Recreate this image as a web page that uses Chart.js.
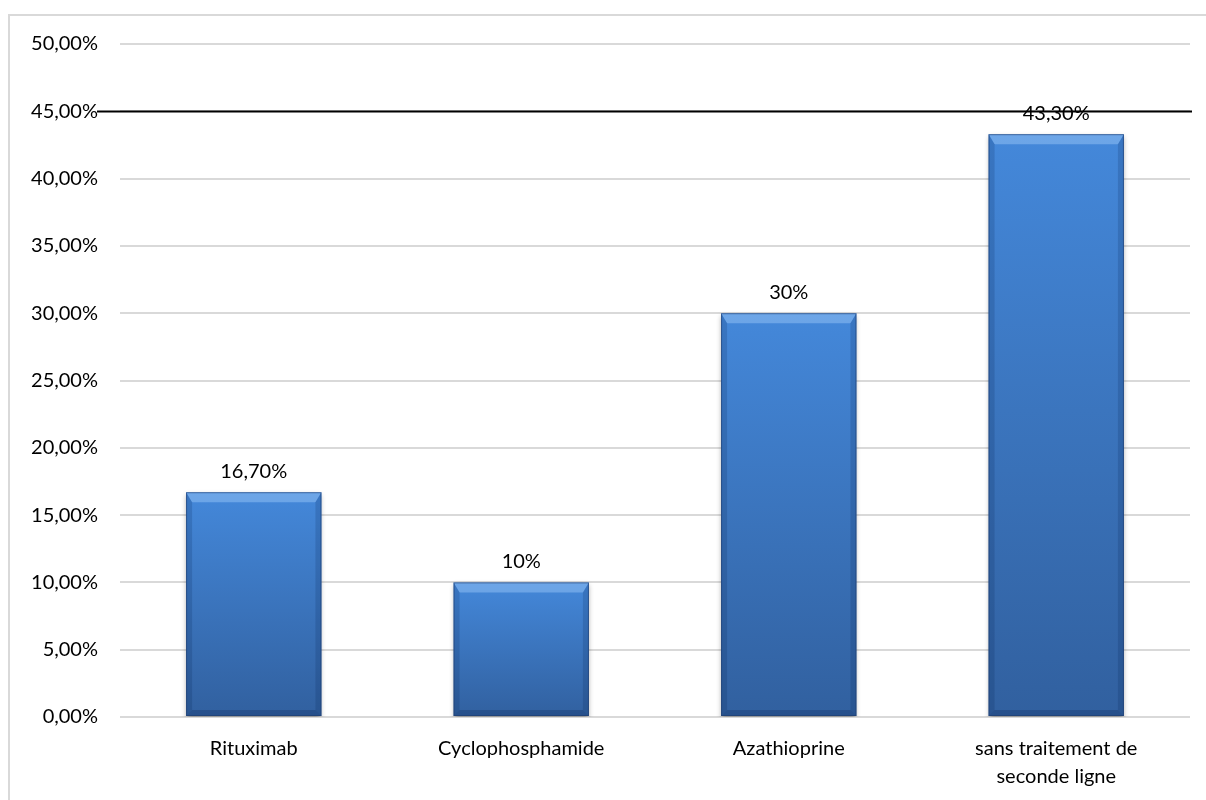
<!DOCTYPE html>
<html>
<head>
<meta charset="utf-8">
<script src="https://cdn.jsdelivr.net/npm/chart.js@4"></script>
<style>
  html, body { margin: 0; padding: 0; background: #fff; overflow: hidden; }
  #frame { position: absolute; left: 8px; top: 14px; width: 1400px; height: 1000px;
           border: 2px solid #d9d9d9; box-sizing: border-box; }
  #wrap { position: absolute; left: 0; top: 0; width: 1206px; height: 800px; }
</style>
</head>
<body>
<div id="frame"></div>
<div id="wrap"><canvas id="chart"></canvas></div>
<script>
// values
var categories = ['Rituximab', 'Cyclophosphamide', 'Azathioprine', ['sans traitement de', 'seconde ligne']];
var values = [16.7, 10, 30, 43.3];
var valueLabels = ['16,70%', '10%', '30%', '43,30%'];
var yTicks = [0, 5, 10, 15, 20, 25, 30, 35, 40, 45, 50];
var refLine = 45;

var FONT = 'Lato, "Noto Sans", sans-serif';

/** gradient from each bar's own top down to the baseline */
function barFill(context) {
  var chart = context.chart;
  var ys = chart.scales.y;
  if (!chart.chartArea || !ys || context.raw == null) return '#3f7acb';
  var top = ys.getPixelForValue(context.raw);
  var base = ys.getPixelForValue(0);
  var g = chart.ctx.createLinearGradient(0, top, 0, base);
  g.addColorStop(0, '#4488da');
  g.addColorStop(1, '#31609f');
  return g;
}

/** soft shadow under the bars, then a bevel on each bar */
var bevelPlugin = {
  id: 'bevel',
  beforeDatasetsDraw: function(chart) {
    var ctx = chart.ctx;
    ctx.save();
    ctx.shadowColor = 'rgba(0,0,0,0.35)';
    ctx.shadowBlur = 5;
    ctx.shadowOffsetY = 3;
  },
  afterDatasetsDraw: function(chart) {
    var ctx = chart.ctx;
    ctx.restore();
    var meta = chart.getDatasetMeta(0);
    var bt = 10, bs = 6;
    ctx.save();
    meta.data.forEach(function(bar) {
      var l = bar.x - bar.width / 2, r = bar.x + bar.width / 2;
      var t = bar.y, btm = bar.base;
      // top bevel
      ctx.fillStyle = 'rgba(150,195,245,0.5)';
      ctx.beginPath();
      ctx.moveTo(l, t); ctx.lineTo(r, t); ctx.lineTo(r - bs, t + bt); ctx.lineTo(l + bs, t + bt);
      ctx.closePath(); ctx.fill();
      // side bevels
      ctx.fillStyle = 'rgba(0,25,70,0.16)';
      ctx.beginPath();
      ctx.moveTo(l, t); ctx.lineTo(l + bs, t + bt); ctx.lineTo(l + bs, btm - bs); ctx.lineTo(l, btm);
      ctx.closePath(); ctx.fill();
      ctx.beginPath();
      ctx.moveTo(r, t); ctx.lineTo(r - bs, t + bt); ctx.lineTo(r - bs, btm - bs); ctx.lineTo(r, btm);
      ctx.closePath(); ctx.fill();
      // bottom bevel
      ctx.fillStyle = 'rgba(0,25,70,0.22)';
      ctx.beginPath();
      ctx.moveTo(l, btm); ctx.lineTo(l + bs, btm - bs); ctx.lineTo(r - bs, btm - bs); ctx.lineTo(r, btm);
      ctx.closePath(); ctx.fill();
      // thin outline
      ctx.strokeStyle = 'rgba(30,60,110,0.6)';
      ctx.lineWidth = 1;
      ctx.strokeRect(l + 0.5, t + 0.5, bar.width - 1, btm - t - 1);
    });
    ctx.restore();
  }
};

/** value labels above bars and the black reference line */
var labelPlugin = {
  id: 'labels',
  afterDraw: function(chart) {
    var ctx = chart.ctx;
    var y = chart.scales.y;
    var area = chart.chartArea;
    ctx.save();
    var ly = Math.round(y.getPixelForValue(refLine)) + 0.5;
    ctx.strokeStyle = '#000';
    ctx.lineWidth = 2;
    ctx.beginPath();
    ctx.moveTo(area.left - 23, ly);
    ctx.lineTo(area.right + 2, ly);
    ctx.stroke();

    ctx.fillStyle = '#000';
    ctx.font = '20px ' + FONT;
    ctx.textAlign = 'center';
    ctx.textBaseline = 'alphabetic';
    chart.getDatasetMeta(0).data.forEach(function(bar, i) {
      ctx.fillText(valueLabels[i], bar.x, bar.y - 14);
    });
    ctx.restore();
  }
};

var ctx = document.getElementById('chart').getContext('2d');
window.chart = new Chart(ctx, {
  type: 'bar',
  data: {
    labels: categories,
    datasets: [{
      data: values,
      backgroundColor: barFill,
      borderWidth: 0,
      categoryPercentage: 1,
      barPercentage: 0.506
    }]
  },
  options: {
    responsive: true,
    maintainAspectRatio: false,
    animation: false,
    layout: { padding: { top: 44, right: 16, bottom: 0, left: 0 } },
    plugins: { legend: { display: false }, tooltip: { enabled: false } },
    scales: {
      x: {
        grid: { display: false, drawTicks: false },
        border: { display: false },
        ticks: {
          color: '#000', padding: 18, maxRotation: 0, autoSkip: false,
          font: { family: FONT, size: 20, lineHeight: 1.4 }
        },
        afterFit: function(s) { s.height = 83; }
      },
      y: {
        min: 0, max: 50,
        afterBuildTicks: function(s) { s.ticks = yTicks.map(function(v) { return { value: v }; }); },
        grid: { color: '#d9d9d9', lineWidth: 2, drawTicks: false },
        border: { display: false },
        ticks: {
          color: '#000', padding: 22,
          font: { family: FONT, size: 20 },
          callback: function(v) { return v.toFixed(2).replace('.', ',') + '%'; }
        },
        afterFit: function(s) { s.width = 120; }
      }
    }
  },
  plugins: [bevelPlugin, labelPlugin]
});
</script>
</body>
</html>
